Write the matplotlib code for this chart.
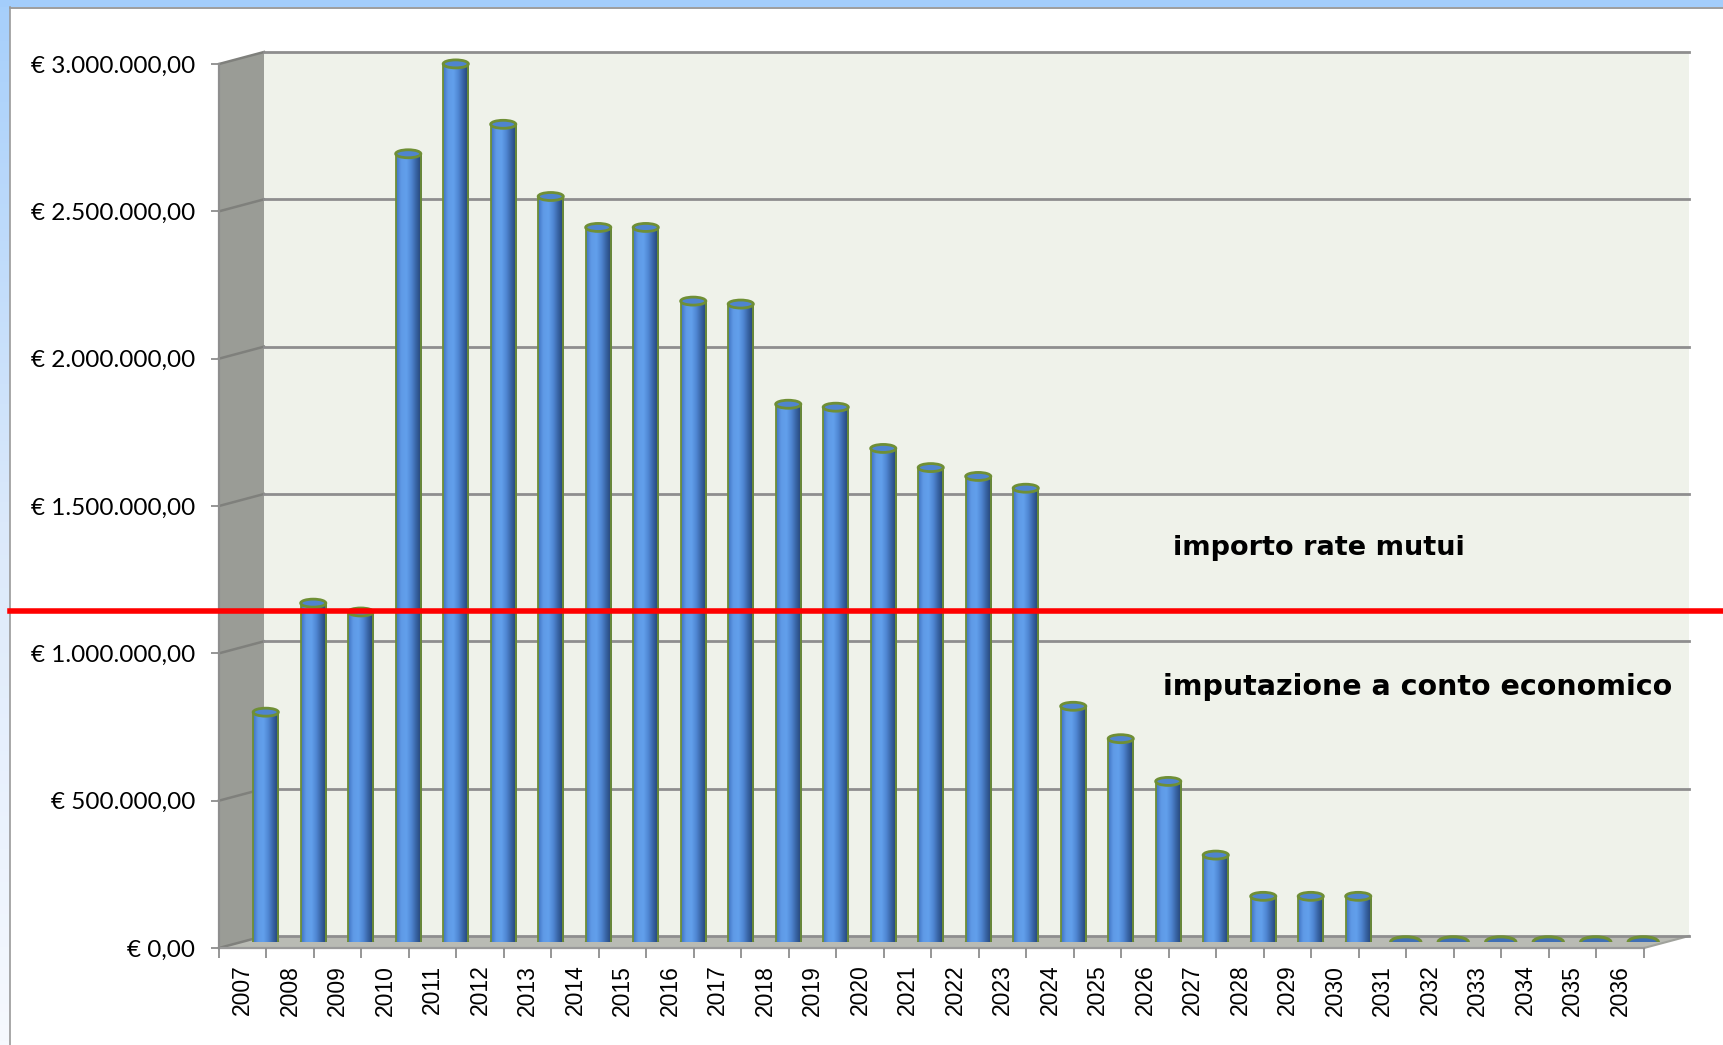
import numpy as np
import matplotlib
matplotlib.use("Agg")
import matplotlib.pyplot as plt
from matplotlib.patches import Ellipse, Polygon, Rectangle
from matplotlib.colors import LinearSegmentedColormap
from matplotlib.lines import Line2D
from matplotlib.transforms import blended_transform_factory

# ---------------- data ----------------
years = ["2007", "2008", "2009", "2010", "2011", "2012", "2013", "2014", "2015",
         "2016", "2017", "2018", "2019", "2020", "2021", "2022", "2023", "2024",
         "2025", "2026", "2027", "2028", "2029", "2030", "2031", "2032", "2033",
         "2034", "2035", "2036"]
values = [780000, 1150000, 1120000, 2675000, 2980000, 2775000, 2530000, 2425000,
          2425000, 2175000, 2165000, 1825000, 1815000, 1675000, 1610000, 1580000,
          1540000, 800000, 690000, 545000, 295000, 155000, 155000, 155000,
          0, 0, 0, 0, 0, 0]
y_ticks = [0, 500000, 1000000, 1500000, 2000000, 2500000, 3000000]
y_tick_labels = ["€ 0,00", "€ 500.000,00", "€ 1.000.000,00", "€ 1.500.000,00",
                 "€ 2.000.000,00", "€ 2.500.000,00", "€ 3.000.000,00"]
threshold = 1125000
label_above = "importo rate mutui"
label_below = "imputazione a conto economico"

# ---------------- layout (pixels) ----------------
W, H = 1724, 1045
fig = plt.figure(figsize=(W / 100, H / 100), dpi=100)
fig.patch.set_facecolor("white")

def frac(left, top, right, bottom):
    return [left / W, (H - bottom) / H, (right - left) / W, (bottom - top) / H]

# background / frame
bg = fig.add_axes([0, 0, 1, 1], zorder=-10)
bg.axis("off")
grad = np.linspace(0, 1, 256).reshape(-1, 1)
frame_cmap = LinearSegmentedColormap.from_list("fr", ["#a6cffb", "#dbe9fb", "#f6f9fe"])
bg.imshow(grad, extent=(0, 10, H, 0), cmap=frame_cmap, aspect="auto")
bg.add_patch(Rectangle((0, 0), W, 7, facecolor="#a3cdfb", edgecolor="none"))
bg.add_line(Line2D([10, W], [7.5, 7.5], color="#8c8c8c", lw=1.2))
bg.add_line(Line2D([10.5, 10.5], [7, H], color="#9a9a9a", lw=1.2))
bg.set_xlim(0, W)
bg.set_ylim(H, 0)

xmin, xmax = -0.5, len(years) - 0.5
ymax = 3000000

ax_b = fig.add_axes(frac(264, 52, 1689, 936), zorder=1)   # back wall
ax_m = fig.add_axes(frac(242, 58, 1667, 942), zorder=2)   # bars (mid depth)
ax_f = fig.add_axes(frac(219, 64, 1644, 948), zorder=3)   # front plane / ticks

for a in (ax_b, ax_m, ax_f):
    a.set_xlim(xmin, xmax)
    a.set_ylim(0, ymax)

# back wall
ax_b.set_facecolor("#eff2ea")
for s in ax_b.spines.values():
    s.set_visible(False)
ax_b.set_xticks([])
ax_b.set_yticks([])
for t in y_ticks:
    ax_b.axhline(t, color="#8e8e8e", lw=2.0, zorder=1, clip_on=False)

# side wall and floor polygons via transforms
inv = fig.transFigure.inverted()
def fpt(ax, x, y):
    return inv.transform(ax.transData.transform((x, y)))

side = Polygon([fpt(ax_f, xmin, 0), fpt(ax_b, xmin, 0), fpt(ax_b, xmin, ymax),
                fpt(ax_f, xmin, ymax)], closed=True, transform=fig.transFigure,
               facecolor="#9a9c96", edgecolor="none", zorder=0.5, clip_on=False)
ax_b.add_patch(side)
floor = Polygon([fpt(ax_f, xmin, 0), fpt(ax_f, xmax, 0), fpt(ax_b, xmax, 0),
                 fpt(ax_b, xmin, 0)], closed=True, transform=fig.transFigure,
                facecolor="#b9bbb4", edgecolor="none", zorder=0.6, clip_on=False)
ax_b.add_patch(floor)
for t in y_ticks:
    p1 = fpt(ax_f, xmin, t)
    p2 = fpt(ax_b, xmin, t)
    ax_b.add_line(Line2D([p1[0], p2[0]], [p1[1], p2[1]], transform=fig.transFigure,
                         color="#7f807c", lw=1.8, zorder=0.7, clip_on=False))
p1 = fpt(ax_f, xmax, 0)
p2 = fpt(ax_b, xmax, 0)
ax_b.add_line(Line2D([p1[0], p2[0]], [p1[1], p2[1]], transform=fig.transFigure,
                     color="#a0a29c", lw=1.5, zorder=0.7, clip_on=False))

# bars (cylinders)
ax_m.patch.set_visible(False)
ax_m.axis("off")
px_per_val = 884 / ymax
cap_h = 8 / px_per_val
bar_w = 0.53
cyl_cmap = LinearSegmentedColormap.from_list(
    "cyl", ["#3f72c2", "#5f9ae6", "#62a0ec", "#4f86d2", "#35609f", "#23406e"])
hgrad = np.linspace(0, 1, 128).reshape(1, -1)
olive = "#6f8f35"
for i, v in enumerate(values):
    if v > 0:
        ax_m.add_patch(Ellipse((i, 0), bar_w, cap_h, facecolor="#3a68ad",
                               edgecolor=olive, lw=1.2, zorder=3))
        ax_m.imshow(hgrad, extent=(i - bar_w / 2, i + bar_w / 2, 0, v), cmap=cyl_cmap,
                    aspect="auto", interpolation="bicubic", zorder=4)
        ax_m.vlines([i - bar_w / 2, i + bar_w / 2], 0, v, color=olive, lw=1.3, zorder=5)
        ax_m.add_patch(Ellipse((i, v), bar_w, cap_h, facecolor="#4f84cf",
                               edgecolor=olive, lw=2.0, zorder=6))
    else:
        ax_m.add_patch(Ellipse((i, v), bar_w * 1.2, cap_h * 1.3,
                               facecolor="#3f6fb5", edgecolor=olive, lw=2.2, zorder=6))
ax_m.set_xlim(xmin, xmax)
ax_m.set_ylim(0, ymax)

# front plane: axes lines, ticks, labels
ax_f.patch.set_visible(False)
ax_f.spines["top"].set_visible(False)
ax_f.spines["right"].set_visible(False)
ax_f.spines["left"].set_color("#8e8e8e")
ax_f.spines["left"].set_linewidth(1.6)
ax_f.spines["bottom"].set_color("#9a9a9a")
ax_f.spines["bottom"].set_linewidth(1.6)
ax_f.spines["bottom"].set_zorder(1)
ax_f.set_yticks(y_ticks)
ax_f.set_yticklabels(y_tick_labels, fontfamily="Lato", fontsize=17.5, color="black")
ax_f.tick_params(axis="y", length=6, width=1.3, color="#8e8e8e", pad=11)
ax_f.set_xticks(range(len(years)))
ax_f.set_xticklabels(years, rotation=90, fontfamily="Liberation Sans", fontsize=16.5)
ax_f.set_xticks(np.arange(len(years) + 1) - 0.5, minor=True)
ax_f.tick_params(axis="x", which="major", length=0, pad=12)
ax_f.tick_params(axis="x", which="minor", length=7, width=1.3, color="#8e8e8e")
ax_f.set_xlim(xmin, xmax)
ax_f.set_ylim(0, ymax)

# threshold red line across the figure
tr = blended_transform_factory(fig.transFigure, ax_m.transData)
ax_f.add_line(Line2D([0.006, 1.0], [threshold, threshold], transform=tr,
                     color="#ff0000", lw=4.0, zorder=10, clip_on=False))

ax_m.text(0.756, 0.446, label_above, transform=ax_m.transAxes, ha="center",
          va="center", fontsize=19.5, fontweight="bold", fontfamily="DejaVu Sans",
          color="black", zorder=10)
ax_m.text(0.825, 0.288, label_below, transform=ax_m.transAxes, ha="center",
          va="center", fontsize=20.5, fontweight="bold", fontfamily="DejaVu Sans",
          color="black", zorder=10)

fig.savefig("out.png", dpi=100)
